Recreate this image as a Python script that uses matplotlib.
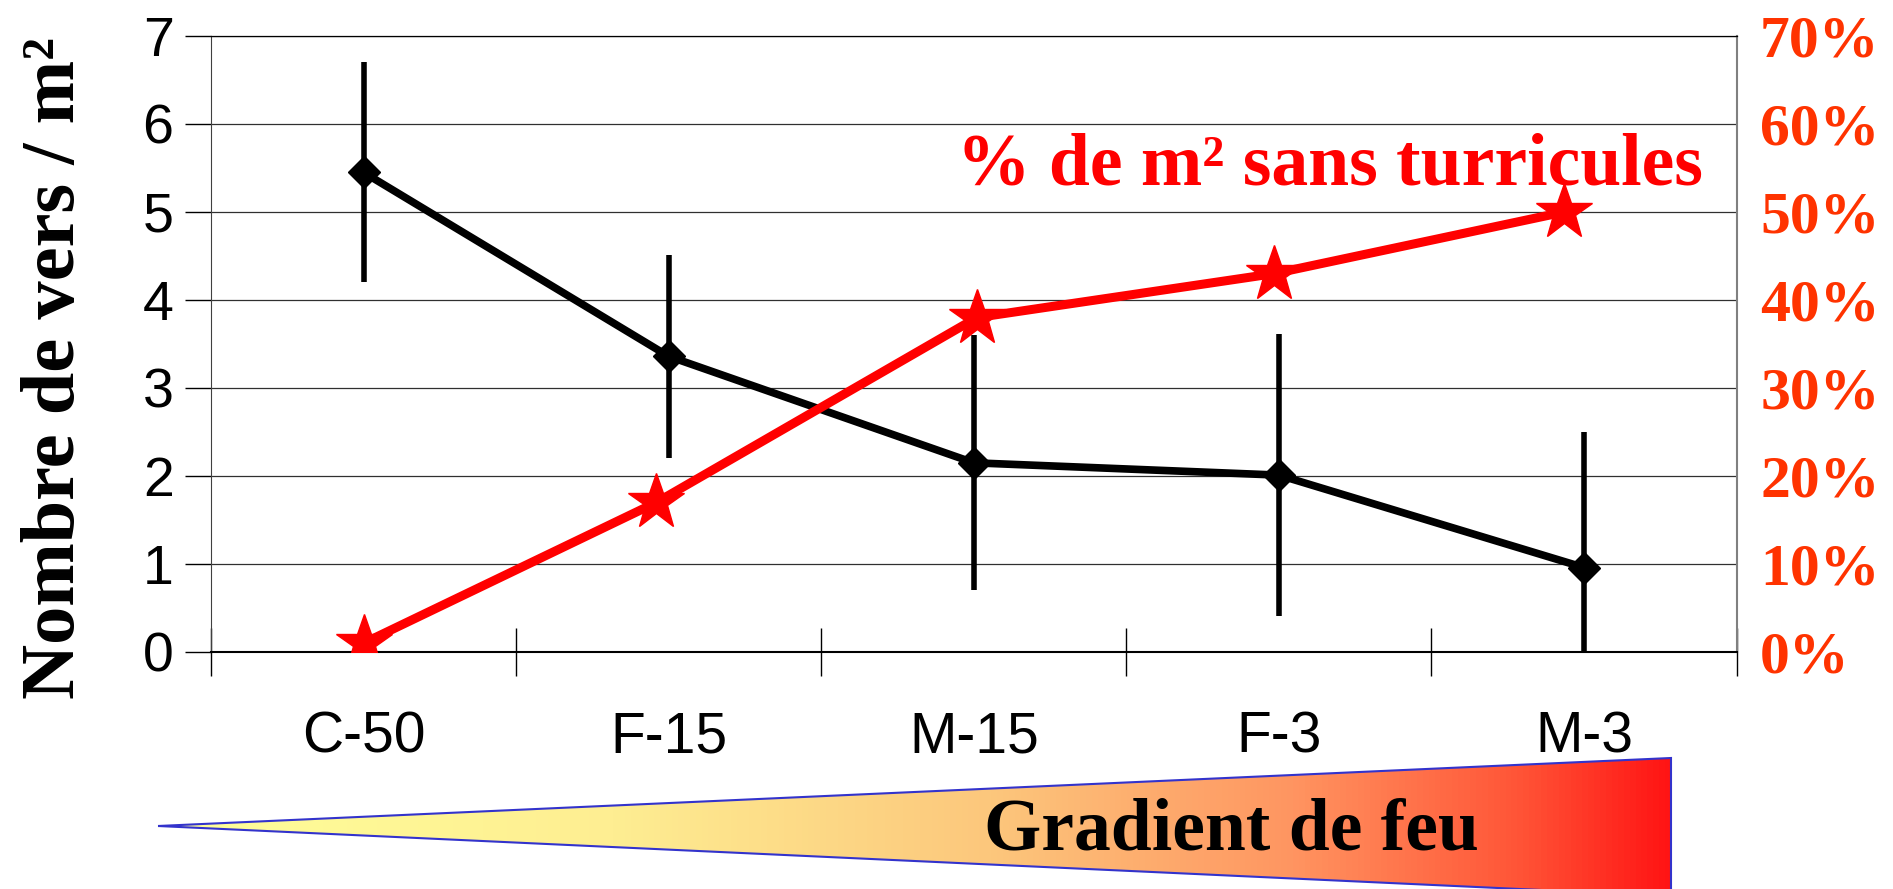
import numpy as np
import matplotlib
matplotlib.use('Agg')
import matplotlib.pyplot as plt
from matplotlib.colors import LinearSegmentedColormap
from matplotlib.patches import Polygon
from matplotlib.ticker import FixedLocator, PercentFormatter

# Donnees
sites = ['C-50', 'F-15', 'M-15', 'F-3', 'M-3']
vers = [5.45, 3.36, 2.15, 2.01, 0.96]          # nombre de vers / m2
vers_err = [1.25, 1.15, 1.45, 1.60, 1.54]      # barres d'erreur
sans_turr = [0.01, 0.17, 0.38, 0.43, 0.50]     # % de m2 sans turricules
decal_turr = [0.0, -0.04, 0.01, -0.015, -0.065]  # petit decalage des etoiles

serif = 'Liberation Serif'
sans = 'Liberation Sans'

W, H = 1893, 889
fig = plt.figure(figsize=(W / 100, H / 100), dpi=100)

ax = fig.add_axes([211 / W, 1 - 652 / H, 1525.5 / W, 616 / H])
x = np.arange(len(sites)) + 0.5

#==============================================================
# Nombre de vers
ax.errorbar(x, vers, yerr=vers_err, color='black', lw=5.5, elinewidth=4,
            capsize=0, marker='D', ms=16, zorder=3)
ax.set_xlim(0, len(sites))
ax.set_ylim(0, 7)
ax.set_yticks(range(8))
ax.set_xticks(x)
ax.set_xticklabels(sites, fontsize=41, family=sans)
ax.xaxis.set_minor_locator(FixedLocator(range(len(sites) + 1)))
ax.tick_params(axis='x', which='major', length=0, pad=42)
ax.tick_params(axis='x', which='minor', length=34, width=1, direction='inout')
ax.tick_params(axis='y', length=19, width=1, direction='out', pad=8,
               labelsize=40)
for t in ax.get_yticklabels():
    t.set_family(sans)
ax.yaxis.grid(True, color='#303030', lw=0.9)
ax.set_axisbelow(True)
ax.spines['left'].set_color('#404040')
ax.spines['right'].set_color('#808080')
ax.spines['right'].set_linewidth(1.5)
ax.spines['top'].set_linewidth(0.9)
ax.spines['bottom'].set_linewidth(1.5)

fig.text(56 / W, 1 - 368 / H, 'Nombre de vers / m²', rotation=90,
         ha='center', va='center', fontsize=55, fontweight='bold', family=serif)

#==============================================================
# % de m2 sans turricules (axe de droite)
ax2 = ax.twinx()
ax2.plot(x + np.array(decal_turr), sans_turr, color='red', lw=6.5,
         marker='*', ms=42, zorder=4)
ax2.set_ylim(0, 0.7)
ax2.set_yticks(np.arange(0, 0.71, 0.1))
ax2.yaxis.set_major_formatter(PercentFormatter(1.0, decimals=0))
ax2.tick_params(axis='y', length=0, pad=17, labelsize=43, labelcolor='#FF3300')
for t in ax2.get_yticklabels():
    t.set_family(serif)
    t.set_fontweight('bold')
for s in ax2.spines.values():
    s.set_visible(False)
ax2.text(0.489, 0.7587, '% de m² sans turricules', transform=ax.transAxes,
         color='red', fontsize=53, fontweight='bold', family=serif,
         va='baseline', ha='left')

#==============================================================
# Gradient de feu
axg = fig.add_axes([0, 0, 1, 1], zorder=-1)
axg.set_xlim(0, W)
axg.set_ylim(H, 0)
axg.axis('off')
feu = LinearSegmentedColormap.from_list('feu', [
    (0.0, '#FFFF99'), (0.3, '#FEEE92'), (0.55, '#FCC77C'),
    (0.75, '#FF9561'), (0.9, '#FF5537'), (1.0, '#FF1414')])
tri = Polygon([(158, 826), (1671, 758), (1671, 896)], closed=True,
              facecolor='none', edgecolor='#3333CC', lw=1.5)
axg.add_patch(tri)
img = axg.imshow(np.linspace(0, 1, 256)[None, :], cmap=feu, aspect='auto',
                 extent=[158, 1671, 896, 758])
img.set_clip_path(tri)
axg.text(984, 850, 'Gradient de feu', fontsize=53, fontweight='bold',
         family=serif, ha='left', va='baseline')

plt.savefig('out.png', dpi=100)
